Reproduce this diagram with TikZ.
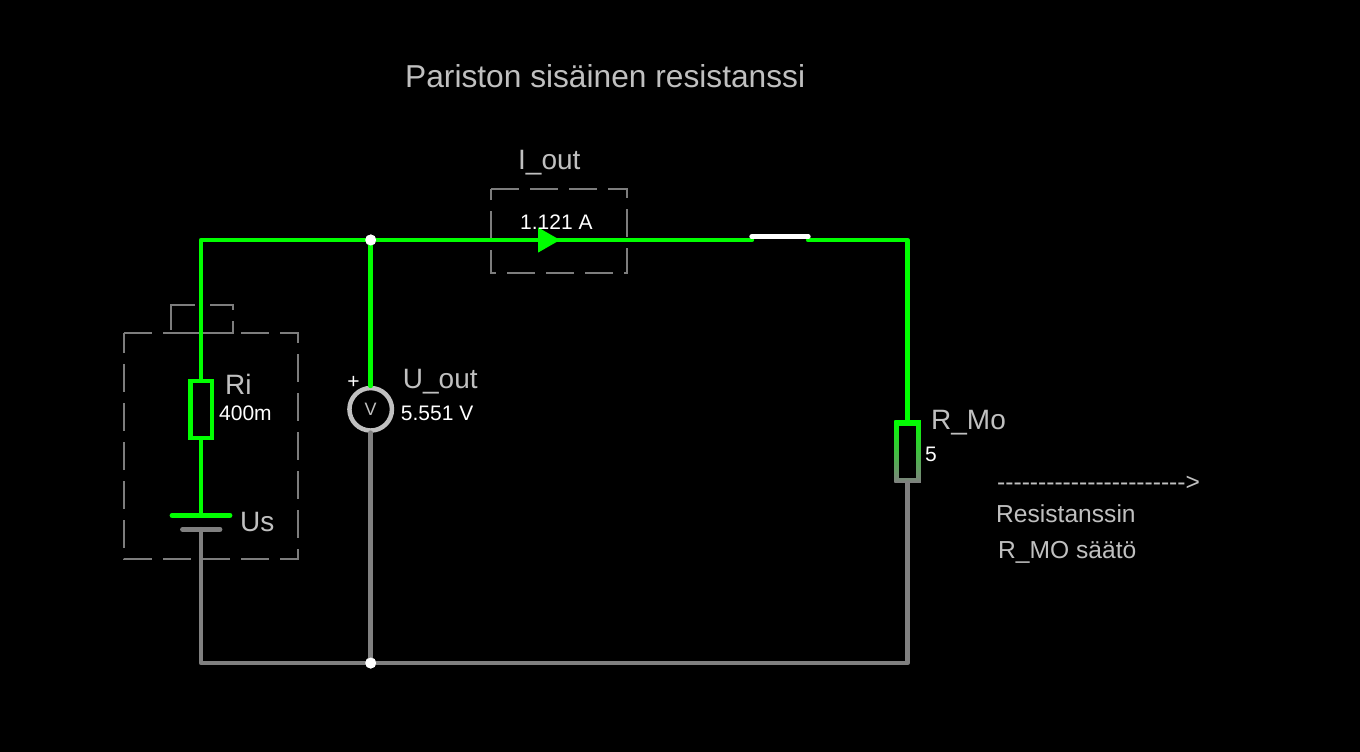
\documentclass[tikz,border=0pt]{standalone}
\usepackage{fontspec}
\setmainfont{Liberation Sans}
\newfontfamily\viivafont{Liberation Sans}
\usepackage{tikz}
\usetikzlibrary{arrows.meta,positioning}
\definecolor{johdinOn}{RGB}{0,255,0}
\definecolor{johdinOff}{RGB}{128,128,128}
\definecolor{teksti}{RGB}{192,192,192}
\definecolor{katko}{RGB}{125,125,125}

\begin{document}
\begin{tikzpicture}[
                x=1pt, y=-1pt,
                johto/.style={line width=4.8pt, line cap=round, line join=round, johdinOn},
                johtoG/.style={line width=4.8pt, line cap=round, line join=round, johdinOff},
                vastus/.style={rectangle, draw=johdinOn, line width=4.5pt, fill=black, minimum width=21.5pt, minimum height=57pt, inner sep=0pt},
                mittari/.style={circle, draw=teksti, line width=4.5pt, fill=black, minimum size=42.5pt, inner sep=0pt, text=teksti, font=\fontsize{18}{20}\selectfont},
                piste/.style={circle, fill=white, minimum size=11pt, inner sep=0pt},
                katkoL/.style={line width=1.5pt, katko, dash pattern=on 28pt off 11pt},
                nimi/.style={anchor=base west, inner sep=0pt, text=teksti, font=\fontsize{28}{30}\selectfont},
                arvo/.style={anchor=base west, inner sep=0pt, text=white, font=\fontsize{21}{24}\selectfont},
                huom/.style={anchor=base west, inner sep=0pt, text=teksti, font=\fontsize{24.6}{26}\selectfont}
            ]
            \useasboundingbox (0,0) rectangle (1360,752);
            \fill[black] (0,0) rectangle (1360,752);

            % Corners and switch ends
            \coordinate (VY) at (201,240);
            \coordinate (OY) at (907.5,240);
            \coordinate (VA) at (201,663);
            \coordinate (OA) at (907.5,663);
            \coordinate (KV) at (751.7,240);
            \coordinate (KO) at (808.3,240);
            \coordinate (SV) at (751.8,236.7);
            \coordinate (SO) at (808.2,236.7);

            % Dashed boxes
            \draw[katkoL] (124,333) -- (298,333) -- (298,559) -- (124,559) -- cycle;
            \draw[katkoL] (210,305) -- (233,305) -- (233,333) -- (171,333);
            \draw[katkoL, dash pattern=on 49pt off 0pt] (195,305) -- (171,305) -- (171,330);
            \draw[katkoL] (491,189) -- (627,189) -- (627,273) -- (491,273) -- cycle;

            % Components
            \node[vastus] (Ri) at (201,409.5) {};
            \node[mittari] (U) at (370.7,409.3) {V};
            \node[rectangle, top color=johdinOn, bottom color=johdinOff, minimum width=26.5pt, minimum height=62pt, inner sep=0pt] (RMo) at (907.5,451.7) {};
            \node[rectangle, fill=black, minimum width=17pt, minimum height=52pt, inner sep=0pt] at (RMo) {};
            \coordinate (P1V) at (172,515.3);
            \coordinate (P1O) at (230,515.3);
            \coordinate (P1) at (201,515.3);
            \coordinate (P2V) at (182.5,529.3);
            \coordinate (P2O) at (220,529.3);
            \coordinate (P2) at (201,529.3);
            \node[piste] (J1) at (370.7,240) {};
            \node[piste] (J2) at (370.7,663) {};

            % Live wires
            \draw[johto] (Ri.north) -- (VY) -- (J1.center) -- (KV);
            \draw[johto] (Ri.south) -- (P1);
            \draw[johto] (J1.center) -- (U.north);
            \draw[johto] (KO) -- (OY) -- (RMo.north);
            \draw[johto] (P1V) -- (P1O);

            % Wires at zero
            \draw[johtoG] (P2) -- (VA) -- (J2.center) -- (OA) -- (RMo.south);
            \draw[johtoG] (J2.center) -- (U.south);
            \draw[johtoG] (P2V) -- (P2O);

            % Switch and current arrow
            \draw[line width=5pt, line cap=round, white] (SV) -- (SO);
            \coordinate (NA) at (538,240);
            \coordinate (NL) at (560,240);
            \draw[-{Triangle[length=22pt,width=25pt]}, line width=1pt, johdinOn] (NA) -- (NL);

            \node[piste] at (J1) {};
            \node[piste] at (J2) {};

            % Labels
            \node[anchor=base west, inner sep=0pt, text=teksti, font=\fontsize{31.7}{34}\selectfont] (otsikko) at (405,88) {Pariston sisäinen resistanssi};
            \node[nimi] (Iout) at (518,169) {I\_out};
            \node[arvo] (Ival) at (520,229) {1.121 A};
            \node[nimi] (Ulab) at ([shift={(32,-21)}]U.center) {U\_out};
            \node[arvo] (Uval) at ([shift={(30,11)}]U.center) {5.551 V};
            \node[arvo, font=\fontsize{21}{22}\selectfont] (plus) at ([shift={(-23.5,-21)}]U.center) {+};
            \node[nimi] (Rlab) at ([shift={(24,-15)}]Ri.center) {Ri};
            \node[arvo] (Rval) at ([shift={(18,11)}]Ri.center) {400m};
            \node[nimi] (Us) at (240,531) {Us};
            \node[nimi] (Mlab) at ([shift={(23.5,-22)}]RMo.center) {R\_Mo};
            \node[arvo] (Mval) at ([shift={(17.5,10)}]RMo.center) {5};
            \node[huom, font=\fontsize{24.6}{26}\viivafont] (nuoli) at (997,490) {----------------------->};
            \node[huom] (huom1) at (996,522) {Resistanssin};
            \node[huom] (huom2) at (998,558) {R\_MO säätö};
        \end{tikzpicture}
\end{document}
